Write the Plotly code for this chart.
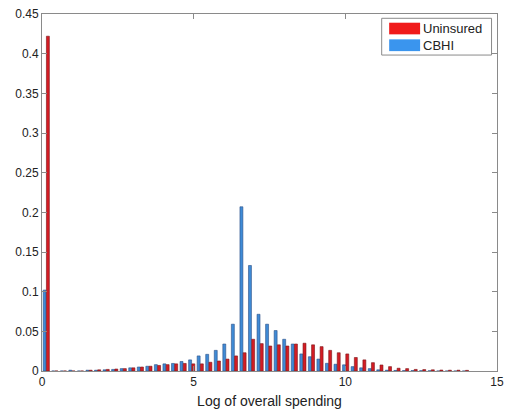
import numpy as np
import plotly.graph_objects as go

# Histogram: 50 bins over log of overall spending (0 .. ~14.1)
bin_width = 14.1 / 50
bin_centers = [round(bin_width / 2 + i * bin_width, 4) for i in range(50)]

uninsured = [0.422, 0, 0, 0, 0, 0.001, 0.0015, 0.002, 0.0025, 0.003,
             0.004, 0.005, 0.006, 0.007, 0.008, 0.009, 0.0095, 0.009, 0.009, 0.011,
             0.0126, 0.015, 0.019, 0.023, 0.040, 0.0345, 0.0315, 0.033, 0.0315, 0.034,
             0.035, 0.033, 0.0307, 0.026, 0.023, 0.0215, 0.017, 0.014, 0.0105, 0.0076,
             0.0055, 0.0035, 0.003, 0.002, 0.0018, 0.0015, 0.0012, 0.001, 0.001, 0.0008]

cbhi = [0.102, 0, 0, 0.001, 0, 0.001, 0.001, 0.0015, 0.002, 0.003,
        0.004, 0.005, 0.006, 0.008, 0.009, 0.0095, 0.012, 0.014, 0.019, 0.021,
        0.026, 0.034, 0.059, 0.207, 0.133, 0.0715, 0.059, 0.051, 0.040, 0.034,
        0.0215, 0.018, 0.015, 0.0097, 0.0085, 0.0078, 0.0055, 0.004, 0.003, 0.0015,
        0.001, 0.0007, 0.0005, 0.0005, 0.0004, 0.0003, 0, 0, 0, 0]

x_ticks = [0, 5, 10, 15]
y_ticks = [0, 0.05, 0.1, 0.15, 0.2, 0.25, 0.3, 0.35, 0.4, 0.45]
y_tick_labels = ["0", "0.05", "0.1", "0.15", "0.2", "0.25", "0.3", "0.35", "0.4", "0.45"]

red = "#d41c24"
blue = "#3f8bd6"
red_leg = "#f01a1a"
blue_leg = "#3a95ee"
FONT = "Liberation Sans, Arial"

fig = go.Figure()
fig.add_trace(go.Bar(x=bin_centers, y=cbhi, name="CBHI",
                     marker=dict(color=blue, line=dict(color="#2c4f86", width=0.6)),
                     showlegend=False))
fig.add_trace(go.Bar(x=bin_centers, y=uninsured, name="Uninsured",
                     marker=dict(color=red, line=dict(color="#7a1418", width=0.6)),
                     showlegend=False))

axis_common = dict(showline=True, linecolor="#8a8a8a", linewidth=1, mirror="ticks",
                   ticks="inside", ticklen=5, tickcolor="#8a8a8a", showgrid=False,
                   zeroline=False, automargin=False,
                   tickfont=dict(family=FONT, size=12, color="#222"))

fig.update_layout(
    width=508, height=413,
    margin=dict(l=42, r=11, t=14, b=42),
    paper_bgcolor="white", plot_bgcolor="white",
    barmode="group", bargap=0.25, bargroupgap=0.08,
    xaxis=dict(range=[0, 15], tickvals=x_ticks, ticktext=[str(v) for v in x_ticks],
               title=dict(text="Log of overall spending", standoff=7,
                          font=dict(family=FONT, size=14, color="#222")),
               **axis_common),
    yaxis=dict(range=[0, 0.45], tickvals=y_ticks, ticktext=y_tick_labels, **axis_common),
    font=dict(family=FONT, size=12, color="#222"),
)

# Custom legend (MATLAB-style box with wide swatches)
fig.add_shape(type="rect", xref="paper", yref="paper", x0=0.7466, x1=0.988, y0=0.885, y1=0.988,
              line=dict(color="#8a8a8a", width=1), fillcolor="white")
fig.add_shape(type="rect", xref="paper", yref="paper", x0=0.763, x1=0.831, y0=0.943, y1=0.9756,
              line=dict(width=0), fillcolor=red_leg)
fig.add_shape(type="rect", xref="paper", yref="paper", x0=0.763, x1=0.831, y0=0.896, y1=0.929,
              line=dict(width=0), fillcolor=blue_leg)
fig.add_annotation(xref="paper", yref="paper", x=0.834, y=0.959, text="Uninsured", showarrow=False,
                   xanchor="left", yanchor="middle", font=dict(family=FONT, size=13, color="#222"))
fig.add_annotation(xref="paper", yref="paper", x=0.834, y=0.912, text="CBHI", showarrow=False,
                   xanchor="left", yanchor="middle", font=dict(family=FONT, size=13, color="#222"))

fig.write_html("out.html", config=dict(displayModeBar=False),
               post_script="document.body.style.margin='0';document.body.style.overflow='hidden';")
